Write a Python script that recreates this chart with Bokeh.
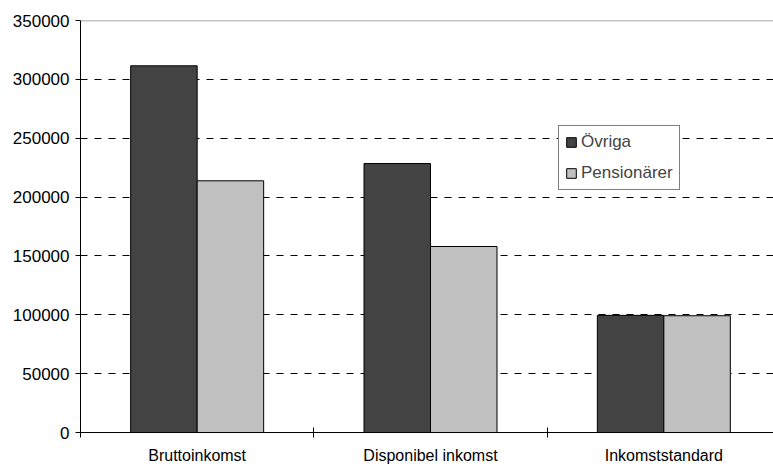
from bokeh.plotting import figure
from bokeh.models import ColumnDataSource, FixedTicker, Range1d, Span, Legend, LegendItem, BasicTickFormatter
from bokeh.transform import dodge
from bokeh.embed import file_html
from bokeh.resources import INLINE

categories = ["Bruttoinkomst", "Disponibel inkomst", "Inkomststandard"]
ovriga = [311500, 228500, 99500]
pensionarer = [213800, 158000, 99200]
series_names = ["Övriga", "Pensionärer"]
y_ticks = [0, 50000, 100000, 150000, 200000, 250000, 300000, 350000]

FONT = "Liberation Sans"
centers = [i + 0.5 for i in range(len(categories))]
src = ColumnDataSource(dict(x=centers, ovriga=ovriga, pens=pensionarer))

p = figure(frame_width=693, frame_height=412, output_backend="svg", toolbar_location=None,
           x_range=Range1d(0, 2.97), y_range=Range1d(0, 350000),
           min_border_left=80, min_border_top=20, min_border_right=0, min_border_bottom=0)
p.outline_line_color = None
p.background_fill_color = "white"
p.border_fill_color = "white"

w = 0.285
r1 = p.vbar(x=dodge("x", -w / 2, range=p.x_range), top="ovriga", width=w, source=src,
            fill_color="#434343", line_color="black", line_width=1)
r2 = p.vbar(x=dodge("x", w / 2, range=p.x_range), top="pens", width=w, source=src,
            fill_color="#C0C0C0", line_color="black", line_width=1)

# grid
p.xgrid.visible = False
p.ygrid.ticker = FixedTicker(ticks=y_ticks[1:-1])
p.ygrid.grid_line_color = "black"
p.ygrid.grid_line_dash = "7 7"
p.ygrid.grid_line_width = 1
p.add_layout(Span(location=y_ticks[-1], dimension="width", line_color="#888888", line_width=1.5))

# y axis
p.yaxis.ticker = FixedTicker(ticks=y_ticks)
p.yaxis.formatter = BasicTickFormatter(use_scientific=False)
p.yaxis.major_tick_in = 0
p.yaxis.major_tick_out = 5
p.yaxis.minor_tick_line_color = None
p.yaxis.major_label_standoff = 6
p.yaxis.major_label_text_font = FONT
p.yaxis.major_label_text_font_size = "17px"
p.yaxis.major_label_text_color = "black"
p.yaxis.axis_line_color = "black"

# x axis
p.xaxis.ticker = FixedTicker(ticks=centers, minor_ticks=[0, 1, 2, 3])
p.xaxis.major_label_overrides = {c: name for c, name in zip(centers, categories)}
p.xaxis.major_tick_in = 0
p.xaxis.major_tick_out = 0
p.xaxis.minor_tick_in = 5
p.xaxis.minor_tick_out = 5
p.xaxis.minor_tick_line_color = "black"
p.xaxis.major_label_standoff = 9
p.xaxis.major_label_text_font = FONT
p.xaxis.major_label_text_font_size = "16px"
p.xaxis.major_label_text_color = "black"
p.xaxis.axis_line_color = "black"

legend = Legend(items=[LegendItem(label=series_names[0], renderers=[r1]),
                       LegendItem(label=series_names[1], renderers=[r2])],
                location=(478, 242))
legend.label_text_font = FONT
legend.label_text_font_size = "17px"
legend.glyph_width = 12
legend.glyph_height = 12
legend.label_standoff = 4
legend.padding = 6
legend.spacing = 11
legend.margin = 0
legend.border_line_color = "black"
legend.border_line_width = 1
legend.background_fill_color = "white"
legend.background_fill_alpha = 1
p.add_layout(legend, "center")

open("out.html", "w").write(file_html(p, INLINE))
